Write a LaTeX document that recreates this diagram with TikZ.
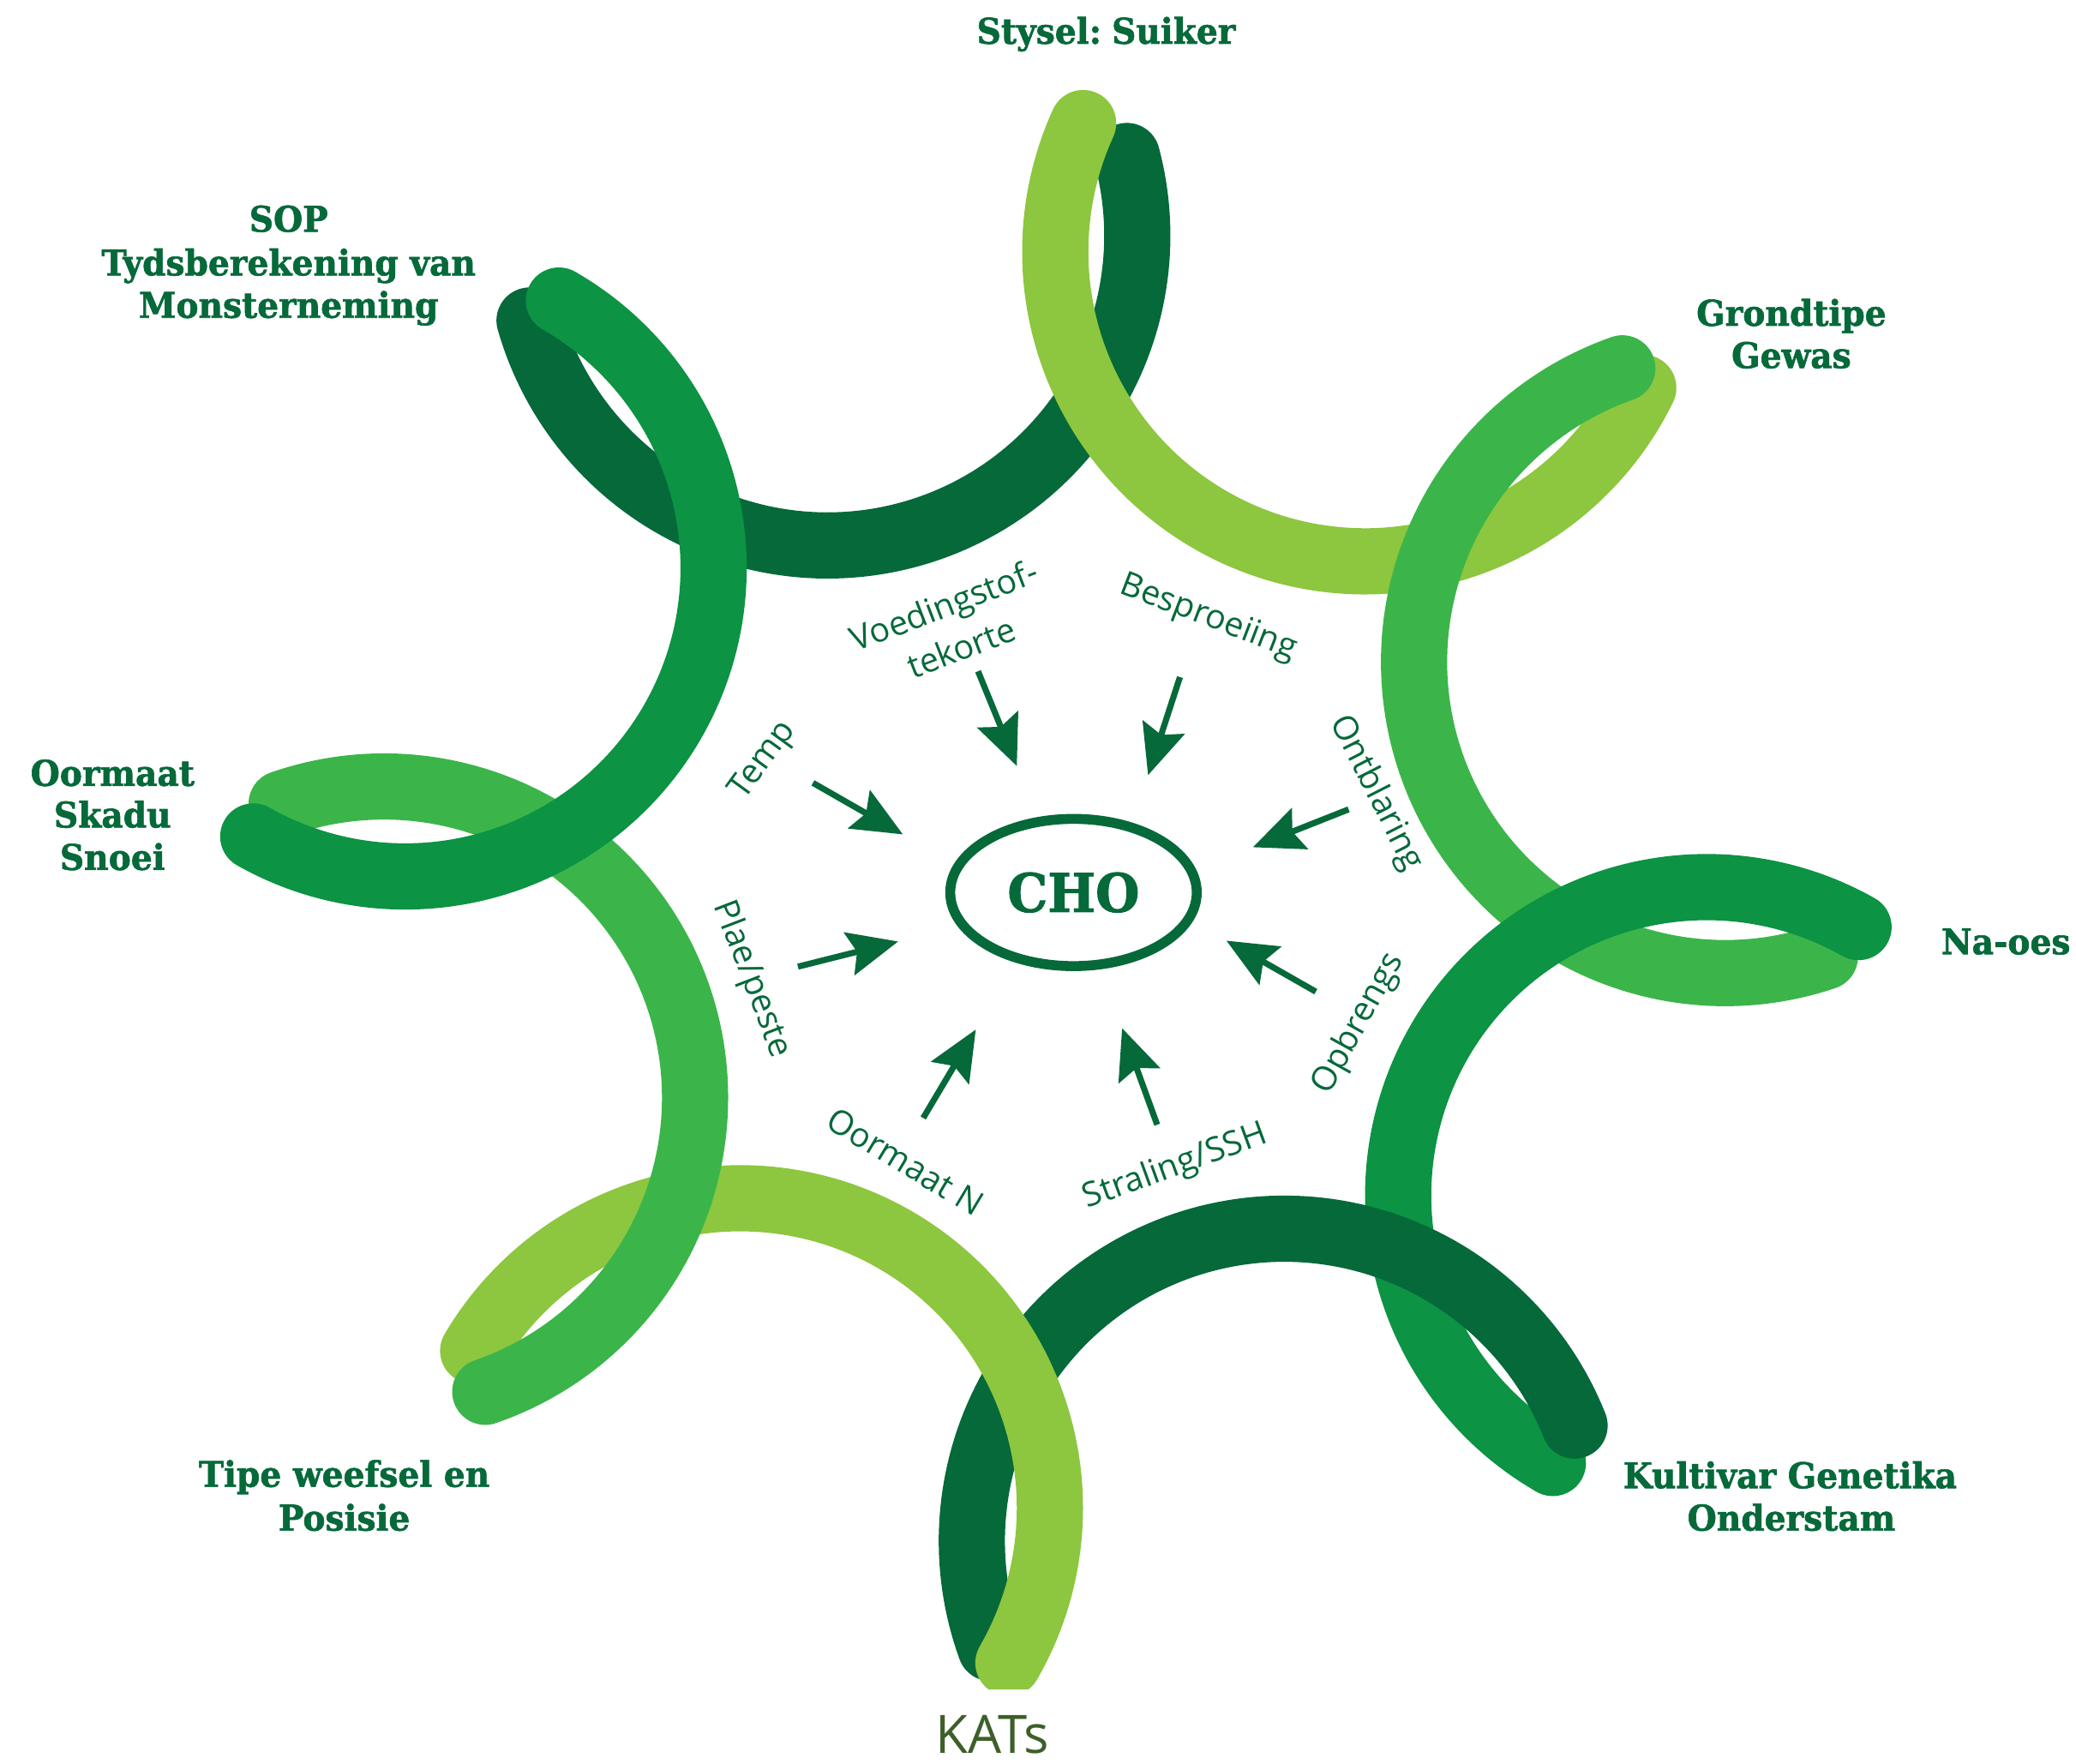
\documentclass[tikz,border=0pt]{standalone}
\usepackage{fontspec}
\usetikzlibrary{arrows.meta,shapes.geometric}
\newfontfamily\labslab{DejaVu Serif}[FakeStretch=0.95, BoldFeatures={FakeBold=1.5}]
\newfontfamily\lblsans{Open Sans}
\definecolor{cdark}{RGB}{5,105,58}
\definecolor{cmed}{RGB}{12,147,67}
\definecolor{clight}{RGB}{59,181,74}
\definecolor{cyellow}{RGB}{141,198,63}
\definecolor{tgreen}{RGB}{6,105,58}
\definecolor{kats}{RGB}{61,95,42}
\begin{document}
\begin{tikzpicture}[x=1pt,y=-1pt,
  coil/.style={line width=50pt, line cap=round, line join=round},
  lbl/.style={font=\labslab\bfseries\fontsize{26.7}{32}\selectfont, text=tgreen, anchor=base, inner sep=0pt},
  clbl/.style={font=\lblsans\fontsize{25.5}{31}\selectfont, text=tgreen, inner sep=0pt, anchor=center},
  arr/.style={draw=tgreen, line width=4.6pt, -{Stealth[length=38pt,width=33pt,inset=6pt]}}]
\useasboundingbox (0,0) rectangle (1568,1332);
% coils
\begin{scope}
\clip (-20,-20) rectangle (1590,1276);
\draw[coil, cdark]   plot[domain=-14.9:164.1, samples=120, variable=\t] ({625+234*cos(\t)},{178+234*sin(\t)});
\draw[coil, cyellow] plot[domain=26.1:204.5, samples=120, variable=\t] ({1031+234*cos(\t)},{190+234*sin(\t)});
\draw[coil, clight]  plot[domain=71.3:250.7, samples=120, variable=\t] ({1303+235*cos(\t)},{500+235*sin(\t)});
\draw[coil, cmed]    plot[domain=119.9:299.5, samples=120, variable=\t] ({1289+233*cos(\t)},{903+233*sin(\t)});
\draw[coil, cdark]   plot[domain=160:338.3, samples=120, variable=\t] ({970+236*cos(\t)},{1164+236*sin(\t)});
\draw[coil, cyellow] plot[domain=-149.5:30, samples=120, variable=\t] ({559+234*cos(\t)},{1139+234*sin(\t)});
\draw[coil, clight]  plot[domain=-109.2:71, samples=120, variable=\t] ({290+235*cos(\t)},{829+235*sin(\t)});
\draw[coil, cmed]    plot[domain=-60.1:119.5, samples=120, variable=\t] ({306+233*cos(\t)},{429+233*sin(\t)});
\end{scope}
% centre
\node[ellipse, draw=tgreen, line width=7.5pt, minimum width=186.2pt, minimum height=111.2pt, inner sep=0pt,
  text=tgreen, font=\labslab\bfseries\fontsize{40.2}{44}\selectfont] (cho) at (810.8,674.1) {CHO};
% outer labels
\node[lbl] (stysel) at (835.5,33) {Stysel:\hspace{-4pt} Suiker};
\node[lbl] (sop1) at (218,175) {SOP};
\node[lbl] (sop2) at (218,208) {Tydsberekening van};
\node[lbl] (sop3) at (218,240) {Monsterneming};
\node[lbl] (grond1) at (1353,246) {Grondtipe};
\node[lbl] (grond2) at (1353,278) {Gewas};
\node[lbl] (oor1) at (85,593.5) {Oormaat};
\node[lbl] (oor2) at (85,625) {Skadu};
\node[lbl] (oor3) at (85,657) {Snoei};
\node[lbl] (naoes) at (1515,720.7) {Na-oes};
\node[lbl] (tipe1) at (260,1123) {Tipe weefsel en};
\node[lbl] (tipe2) at (260,1156) {Posisie};
\node[lbl] (kult1) at (1352,1124) {Kultivar Genetika};
\node[lbl] (kult2) at (1353,1156) {Onderstam};
\node[anchor=base, inner sep=0pt, text depth=0pt, text=kats, font=\lblsans\fontsize{40}{44}\selectfont] (katsl) at (749.5,1324) {KATs};
% inner labels
\node[clbl, rotate=21] (voed1) at (713.9,459.6) {Voedingstof-};
\node[clbl, rotate=21] (voed2) at (725.9,488.9) {tekorte};
\node[clbl, rotate=-21] (bespr) at (912.5,466.7) {Besproeiing};
\node[clbl, rotate=-63] (ontbl) at (1039.2,599.2) {Ontblaring};
\node[clbl, rotate=61] (opbr) at (1026.2,773.1) {Opbrengs};
\node[clbl, rotate=20] (stral) at (887.7,881.6) {Straling/SSH};
\node[clbl, rotate=-31] (oorn) at (683.9,877.4) {Oormaat N};
\node[clbl, rotate=-69] (plae) at (567.5,739.7) {Plae/peste};
\node[clbl, rotate=54] (temp) at (576.8,574.5) {Temp};
% arrows
\coordinate (t1) at (738.7,507);   \coordinate (h1) at (768,578.6);
\coordinate (t2) at (891.2,511.4); \coordinate (h2) at (867.1,585.5);
\coordinate (t3) at (1018.6,611.3);\coordinate (h3) at (946.3,639.9);
\coordinate (t4) at (993.8,749);   \coordinate (h4) at (926.3,710.5);
\coordinate (t5) at (874,849.5);   \coordinate (h5) at (847.5,776.6);
\coordinate (t6) at (697.3,844.4); \coordinate (h6) at (737,777.6);
\coordinate (t7) at (602.7,730.1); \coordinate (h7) at (678.4,711.1);
\coordinate (t8) at (614,591.3);   \coordinate (h8) at (681.9,630.2);
\foreach \i in {1,...,8} {\draw[arr] (t\i) -- (h\i);}
\end{tikzpicture}
\end{document}
